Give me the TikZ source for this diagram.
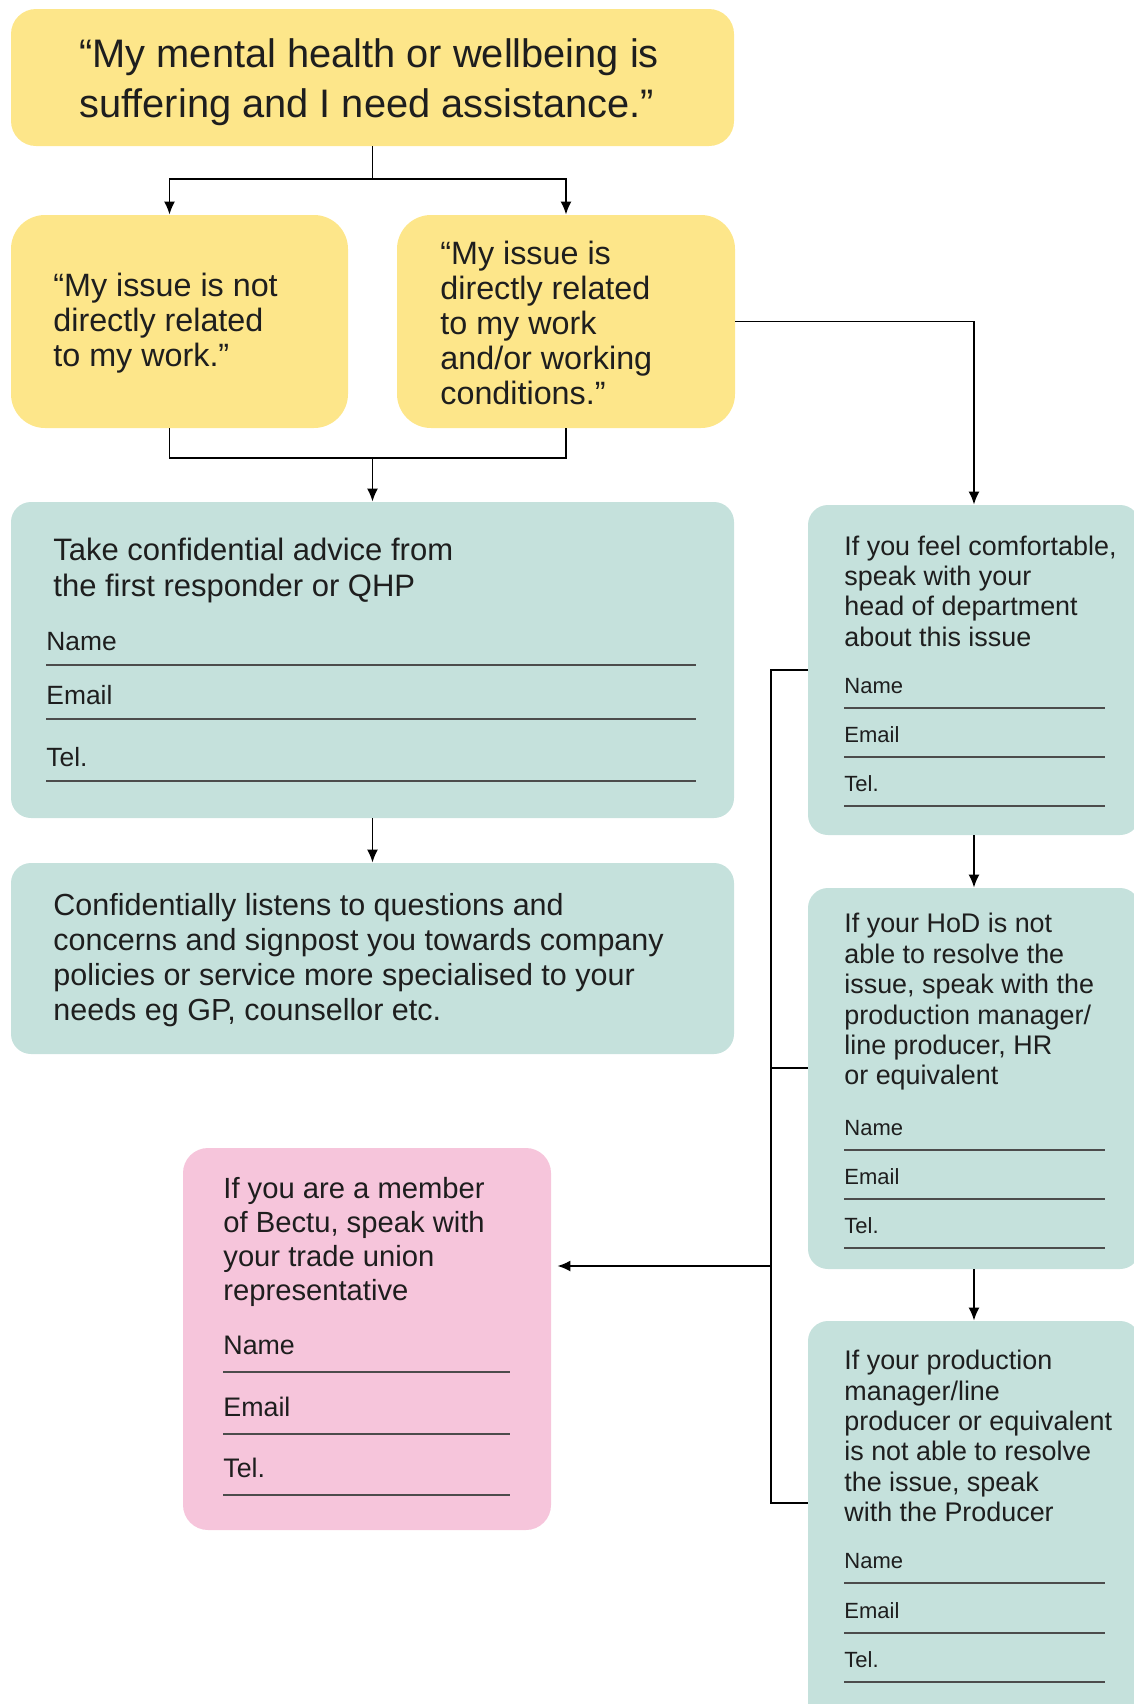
\documentclass[tikz,border=0pt]{standalone}
\usepackage{fontspec}
\setmainfont{Liberation Sans}
\usetikzlibrary{arrows.meta}
\definecolor{boxyellow}{RGB}{253,230,138}
\definecolor{boxteal}{RGB}{197,225,220}
\definecolor{boxpink}{RGB}{246,197,219}
\definecolor{inkcol}{RGB}{30,30,30}
\newcommand{\boxfont}[2]{\fontsize{#1pt}{#2pt}\selectfont}
\tikzset{
  box/.style={inner sep=0pt, rounded corners=10pt},
  ybox/.style={box, fill=boxyellow},
  tbox/.style={box, fill=boxteal},
  pbox/.style={box, fill=boxpink, rounded corners=12.5pt},
  txt/.style={anchor=west, align=left, inner sep=0pt, text=inkcol},
  field/.style={anchor=base west, inner sep=0pt, text=inkcol},
  rule/.style={black!70, line width=0.6pt},
  link/.style={line width=0.9pt, black},
  arr/.style={link, -{Latex[length=6.5pt,width=5.5pt]}},
}
\begin{document}
\begin{tikzpicture}[x=0.5pt, y=-0.5pt]
      \useasboundingbox (0,0) rectangle (1134,1704);
      \clip (0,0) rectangle (1134,1704);
      \node[ybox, rounded corners=12.5pt, minimum width=361.5pt, minimum height=68.5pt] (top) at (372.5,77.5) {};
      \node[ybox, rounded corners=17pt, minimum width=168.5pt, minimum height=106.5pt] (notrel) at (179.5,321.5) {};
      \node[ybox, rounded corners=17pt, minimum width=169pt, minimum height=106.5pt] (rel) at (566,321.5) {};
      \node[tbox, minimum width=361.5pt, minimum height=158pt] (advice) at (372.5,660) {};
      \node[tbox, minimum width=361.5pt, minimum height=95.5pt] (listen) at (372.5,958.5) {};
      \node[tbox, minimum width=166pt, minimum height=165pt] (hod) at (974,670) {};
      \node[tbox, minimum width=166pt, minimum height=190.5pt] (pm) at (974,1078.5) {};
      \node[tbox, minimum width=166pt, minimum height=209.5pt] (prod) at (974,1530.5) {};
      \node[pbox, minimum width=184pt, minimum height=191pt] (bectu) at (367,1339) {};

      \node[txt, font=\boxfont{19.9}{25}] (toptext) at (79,82)
        {“My mental health or wellbeing is\\suffering and I need assistance.”};
      \node[txt, font=\boxfont{16.15}{17.5}] (notreltext) at (53,323)
        {“My issue is not\\directly related\\to my work.”};
      \node[txt, font=\boxfont{16.15}{17.5}] (reltext) at (440,323)
        {“My issue is\\directly related\\to my work\\and/or working\\conditions.”};
      \node[txt, font=\boxfont{15.5}{18}] (advicetext) at (53,570)
        {Take confidential advice from\\the first responder or QHP};
      \node[txt, font=\boxfont{15.25}{17.5}] (listentext) at (53,960)
        {Confidentially listens to questions and\\concerns and signpost you towards company\\policies or service more specialised to your\\needs eg GP, counsellor etc.};
      \node[txt, font=\boxfont{13.45}{15.2}] (hodtext) at (844,591)
        {If you feel comfortable,\\speak with your\\head of department\\about this issue};
      \node[txt, font=\boxfont{13.45}{15.2}] (pmtext) at (844,1002)
        {If your HoD is not\\able to resolve the\\issue, speak with the\\production manager/\\line producer, HR\\or equivalent};
      \node[txt, font=\boxfont{13.45}{15.2}] (prodtext) at (844,1436)
        {If your production\\manager/line\\producer or equivalent\\is not able to resolve\\the issue, speak\\with the Producer};
      \node[txt, font=\boxfont{14.6}{16.9}] (bectutext) at (223,1242)
        {If you are a member\\of Bectu, speak with\\your trade union\\representative};

      \foreach \lab/\y [count=\i] in {Name/665, Email/719, Tel./781} {
        \node[field, font=\boxfont{13.2}{15}] (adv\i) at (46,\y-15) {\lab};
        \draw[rule] (46,\y) -- (696,\y);
      }
      \foreach \lab/\y [count=\i] in {Name/708, Email/757, Tel./806} {
        \node[field, font=\boxfont{11}{13}] (hod\i) at (844,\y-15) {\lab};
        \draw[rule] (844,\y) -- (1105,\y);
      }
      \foreach \lab/\y [count=\i] in {Name/1150, Email/1199, Tel./1248} {
        \node[field, font=\boxfont{11}{13}] (pm\i) at (844,\y-15) {\lab};
        \draw[rule] (844,\y) -- (1105,\y);
      }
      \foreach \lab/\y [count=\i] in {Name/1583, Email/1633, Tel./1682} {
        \node[field, font=\boxfont{11}{13}] (prod\i) at (844,\y-15) {\lab};
        \draw[rule] (844,\y) -- (1105,\y);
      }
      \foreach \lab/\y [count=\i] in {Name/1372, Email/1434, Tel./1495} {
        \node[field, font=\boxfont{13.4}{15}] (bectu\i) at (223,\y-18) {\lab};
        \draw[rule] (223,\y) -- (510,\y);
      }

      \coordinate (split) at (372.5,179);
      \coordinate (merge) at (372.5,458);
      \coordinate (bustop) at (771,670);
      \coordinate (busmid) at (771,1068);
      \coordinate (busout) at (771,1266);
      \coordinate (busend) at (771,1503);
      \draw[link] (top.south) -- (split);
      \draw[arr] (split) -| ([xshift=-5pt]notrel.north);
      \draw[arr] (split) -| (rel.north);
      \draw[link] ([xshift=-5pt]notrel.south) |- (merge) -| (rel.south);
      \draw[arr] (merge) -- (advice.north);
      \draw[arr] (advice.south) -- (listen.north);
      \draw[arr] (rel.east) -| (hod.north);
      \draw[arr] (hod.south) -- (pm.north);
      \draw[arr] (pm.south) -- (prod.north);
      \draw[link] (hod.west) -- (bustop) -- (busend) -- (busend -| prod.west);
      \draw[link] (busmid) -- (busmid -| pm.west);
      \draw[arr] (busout) -- ([xshift=3pt]busout -| bectu.east);
    \end{tikzpicture}
\end{document}
